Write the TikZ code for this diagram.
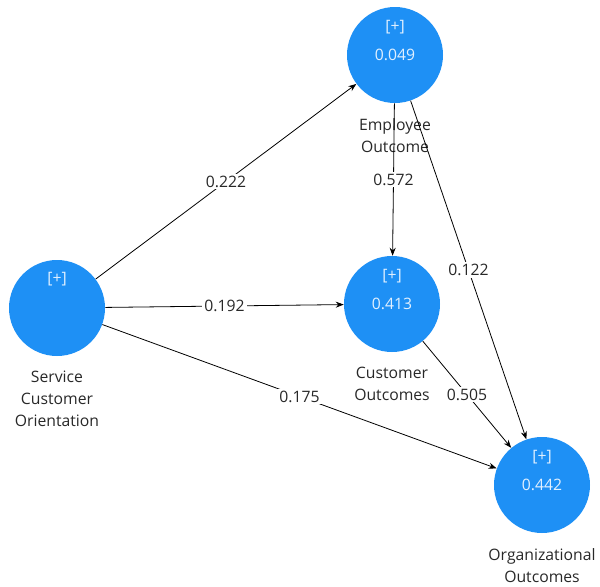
\documentclass[tikz,border=0pt]{standalone}
\usepackage{fontspec}
\setmainfont{Open Sans}
\usepackage{xcolor}
\usepackage{tikz}
\usetikzlibrary{arrows.meta, positioning}
\definecolor{PLSBlue}{RGB}{30, 144, 245}
\definecolor{PLSText}{RGB}{40, 40, 40}
\definecolor{PLSLight}{RGB}{225, 240, 255}

\begin{document}
\begin{tikzpicture}[
    x=0.75pt, y=-0.75pt,
    latent/.style={circle, fill=PLSBlue, minimum size=72pt, inner sep=0pt,
      text=PLSLight, font=\fontsize{11.8}{14}\selectfont},
    indic/.style={text=PLSLight, inner sep=0pt, font=\fontsize{11.8}{14}\selectfont},
    caption/.style={align=center, text=PLSText, inner sep=0pt,
      font=\fontsize{11.8}{16.5}\selectfont},
    coef/.style={fill=white, text=PLSText, inner sep=1.5pt,
      font=\fontsize{11.8}{14}\selectfont},
    link/.style={-{Stealth[length=6pt, width=4.5pt]}, line width=0.6pt}
  ]
    \useasboundingbox (0,0) rectangle (600,586);

    % latent variables
    \node[latent] (sco) at (57,308) {};
    \node[latent] (emp) at (395,55) {0.049};
    \node[latent] (cust) at (392,304) {0.413};
    \node[latent] (org) at (542,485) {0.442};

    \node[indic] (sco-ind) at ([yshift=22pt]sco.center) {[+]};
    \node[indic] (emp-ind) at ([yshift=21pt]emp.center) {[+]};
    \node[indic] (cust-ind) at ([yshift=21pt]cust.center) {[+]};
    \node[indic] (org-ind) at ([yshift=21pt]org.center) {[+]};

    % names
    \node[caption, below=11pt of sco] (sco-name) {Service\\Customer\\Orientation};
    \node[caption, below=11pt of emp] (emp-name) {Employee\\Outcome};
    \node[caption, below=11pt of cust] (cust-name) {Customer\\Outcomes};
    \node[caption, below=11pt of org] (org-name) {Organizational\\Outcomes};

    % path coefficients
    \draw[link] (sco) -- node[coef] {0.222} (emp);
    \draw[link] (sco) -- node[coef] {0.192} (cust);
    \draw[link] (sco) -- node[coef] {0.175} (org);
    \draw[link] (emp) -- node[coef] {0.572} (cust);
    \draw[link] (emp) -- node[coef] {0.122} (org);
    \draw[link] (cust) -- node[coef] {0.505} (org);
  \end{tikzpicture}
\end{document}
